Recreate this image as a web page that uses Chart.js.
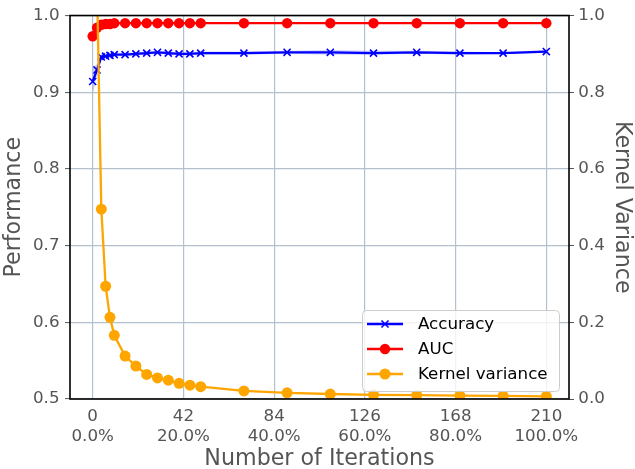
<!DOCTYPE html>
<html>
<head>
<meta charset="utf-8">
<script src="https://cdn.jsdelivr.net/npm/chart.js@4.4.1/dist/chart.umd.min.js"></script>
<style>
html,body{margin:0;padding:0;background:#fff;}
canvas{display:block;}
</style>
</head>
<body>
<canvas id="c" width="635" height="469"></canvas>
<script>
const iterations = [0, 2, 4, 6, 8, 10, 15, 20, 25, 30, 35, 40, 45, 50, 70, 90, 110, 130, 150, 170, 190, 210];
const accuracy = [0.914, 0.929, 0.946, 0.947, 0.948, 0.949, 0.949, 0.950, 0.951, 0.952, 0.951, 0.950, 0.950, 0.951, 0.951, 0.952, 0.952, 0.951, 0.952, 0.951, 0.951, 0.953];
const accuracyLow = [0.897, 0.921, 0.942, 0.944, 0.946, 0.947, 0.947, 0.948, 0.949, 0.950, 0.949, 0.948, 0.948, 0.949, 0.949, 0.950, 0.949, 0.949, 0.950, 0.949, 0.950, 0.951];
const accuracyHigh = [0.931, 0.937, 0.950, 0.950, 0.950, 0.951, 0.951, 0.952, 0.953, 0.954, 0.953, 0.952, 0.952, 0.953, 0.953, 0.954, 0.955, 0.954, 0.954, 0.953, 0.952, 0.955];
const auc = [0.973, 0.984, 0.988, 0.989, 0.989, 0.990, 0.990, 0.990, 0.990, 0.990, 0.990, 0.990, 0.990, 0.990, 0.990, 0.990, 0.990, 0.990, 0.990, 0.990, 0.990, 0.990];
const kernelVariance = [2.5, 1.08, 0.495, 0.294, 0.213, 0.166, 0.112, 0.086, 0.064, 0.055, 0.049, 0.041, 0.036, 0.032, 0.021, 0.016, 0.013, 0.011, 0.010, 0.009, 0.008, 0.007];
const xTicks = [0, 42, 84, 126, 168, 210];
const xTickPct = ['0.0%', '20.0%', '40.0%', '60.0%', '80.0%', '100.0%'];

const FONT = "'DejaVu Sans', sans-serif";
const GRAY = '#555555';
const GRID = '#b4c0cc';
const pts = ys => iterations.map((x, i) => ({x, y: ys[i]}));

const framePlugin = {
  id: 'frame',
  afterDatasetsDraw(chart){
    const {ctx, chartArea: a} = chart;
    ctx.save();
    ctx.strokeStyle = '#000';
    ctx.lineWidth = 1.6;
    ctx.strokeRect(a.left, a.top, a.right - a.left, a.bottom - a.top);
    ctx.restore();
  }
};

const legendPlugin = {
  id: 'boxLegend',
  afterDraw(chart){
    const {ctx, chartArea: a} = chart;
    const w = 197, h = 81;
    const x0 = a.right - 10 - w, y0 = a.bottom - 8 - h;
    ctx.save();
    ctx.beginPath();
    ctx.roundRect(x0 + 0.5, y0 + 0.5, w, h, 4);
    ctx.fillStyle = 'rgba(255,255,255,0.8)';
    ctx.fill();
    ctx.strokeStyle = '#cccccc';
    ctx.lineWidth = 1;
    ctx.stroke();
    chart.data.datasets.filter(d => d.inLegend).forEach((ds, i) => {
      const y = y0 + 14 + i * 25;
      ctx.strokeStyle = ds.borderColor;
      ctx.fillStyle = ds.pointBackgroundColor;
      ctx.lineWidth = ds.borderWidth;
      ctx.beginPath();
      ctx.moveTo(x0 + 5, y);
      ctx.lineTo(x0 + 41, y);
      ctx.stroke();
      ctx.lineWidth = ds.pointBorderWidth;
      Chart.helpers.drawPoint(ctx, {pointStyle: ds.pointStyle, radius: ds.pointRadius, rotation: 0, borderWidth: ds.pointBorderWidth}, x0 + 23, y);
      ctx.fillStyle = '#000';
      ctx.font = "16.7px " + FONT;
      ctx.textBaseline = 'middle';
      ctx.textAlign = 'left';
      ctx.fillText(ds.label, x0 + 56, y + 1);
    });
    ctx.restore();
  }
};

new Chart(document.getElementById('c'), {
  type: 'line',
  data: {
    datasets: [
      {label: 'acc-high', data: pts(accuracyHigh), yAxisID: 'y', borderWidth: 0, pointRadius: 0,
       backgroundColor: 'rgba(0,0,255,0.18)', fill: '+1', order: 4},
      {label: 'acc-low', data: pts(accuracyLow), yAxisID: 'y', borderWidth: 0, pointRadius: 0,
       backgroundColor: 'rgba(0,0,255,0.18)', fill: false, order: 4},
      {label: 'Accuracy', inLegend: true, data: pts(accuracy), yAxisID: 'y',
       borderColor: '#0000ff', backgroundColor: '#0000ff', borderWidth: 2.3,
       pointStyle: 'crossRot', pointRadius: 5, pointBorderWidth: 1.6,
       pointBorderColor: '#0000ff', pointBackgroundColor: '#0000ff', order: 2},
      {label: 'AUC', inLegend: true, data: pts(auc), yAxisID: 'y',
       borderColor: '#ff0000', backgroundColor: '#ff0000', borderWidth: 2.3,
       pointStyle: 'circle', pointRadius: 5.2, pointBorderWidth: 0,
       pointBorderColor: '#ff0000', pointBackgroundColor: '#ff0000', order: 1},
      {label: 'Kernel variance', inLegend: true, data: pts(kernelVariance), yAxisID: 'y2',
       borderColor: '#ffa500', backgroundColor: '#ffa500', borderWidth: 2.3,
       pointStyle: 'circle', pointRadius: 5.5, pointBorderWidth: 0,
       pointBorderColor: '#ffa500', pointBackgroundColor: '#ffa500', order: 0, clip: 0}
    ]
  },
  options: {
    responsive: false,
    animation: false,
    events: [],
    layout: {padding: {top: 14, left: 0, right: 0, bottom: 0}},
    elements: {line: {tension: 0}},
    plugins: {legend: {display: false}, tooltip: {enabled: false}},
    scales: {
      x: {
        type: 'linear', min: -10.5, max: 220.5,
        afterBuildTicks: s => { s.ticks = xTicks.map(v => ({value: v})); },
        afterFit: s => { s.height = 70; },
        ticks: {
          color: GRAY, padding: 8.4, maxRotation: 0,
          font: {family: FONT, size: 16.7, lineHeight: 1.15},
          callback: (v, i) => [String(v), xTickPct[i]]
        },
        grid: {color: GRID, lineWidth: 1.2, drawTicks: false},
        border: {display: false},
        title: {display: true, text: 'Number of Iterations', color: GRAY,
                font: {family: FONT, size: 22.2}, padding: {top: 0, bottom: -4}}
      },
      y: {
        position: 'left', min: 0.5, max: 1.0,
        afterFit: s => { s.width = 70; },
        ticks: {stepSize: 0.1, color: GRAY, padding: 5.5,
                font: {family: FONT, size: 16.7}, callback: v => v.toFixed(1)},
        grid: {color: GRID, lineWidth: 1.2, tickColor: GRAY, tickLength: 5, tickWidth: 1},
        border: {display: false},
        title: {display: true, text: 'Performance', color: GRAY,
                font: {family: FONT, size: 22.2}, padding: {top: 1, bottom: 0}}
      },
      y2: {
        position: 'right', min: 0, max: 1.0,
        afterFit: s => { s.width = 66; },
        ticks: {stepSize: 0.2, color: GRAY, padding: 4.3,
                font: {family: FONT, size: 16.7}, callback: v => v.toFixed(1)},
        grid: {drawOnChartArea: false, tickColor: GRAY, tickLength: 5, tickWidth: 1},
        border: {display: false},
        title: {display: true, text: 'Kernel Variance', color: GRAY,
                font: {family: FONT, size: 22.2}, padding: {top: 0, bottom: 0}}
      }
    }
  },
  plugins: [framePlugin, legendPlugin]
});
</script>
</body>
</html>
